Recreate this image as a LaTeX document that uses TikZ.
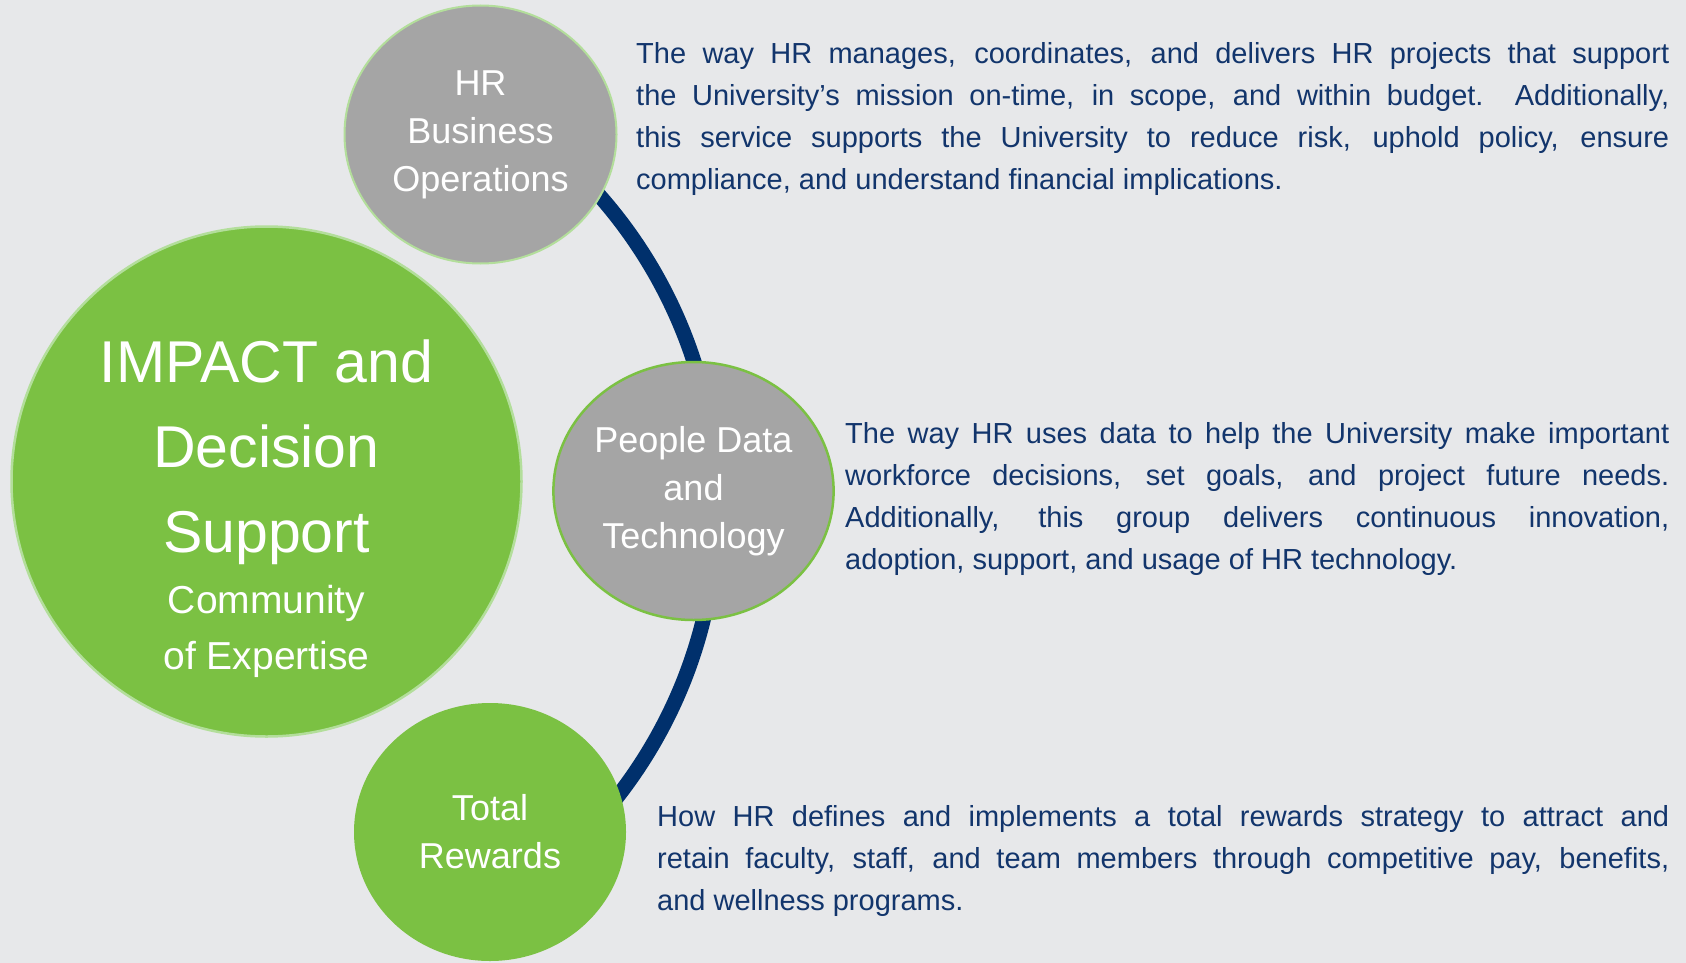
\documentclass[tikz,border=0pt]{standalone}
\usepackage{fontspec}
\setmainfont{Liberation Sans}
\usetikzlibrary{positioning,calc,shapes.geometric}
\definecolor{pagebg}{HTML}{E7E8EA}
\definecolor{leafgreen}{HTML}{7BC143}
\definecolor{palegreen}{HTML}{B3DE9B}
\definecolor{discgray}{HTML}{A5A5A5}
\definecolor{spinenavy}{HTML}{00306C}
\definecolor{textnavy}{HTML}{12356C}
\tikzset{hub/.style={ellipse, inner sep=0pt, minimum width=272pt, minimum height=258pt, align=center, text=white, font=\fontsize{36}{48}\selectfont}}
\tikzset{bigdisc/.style={circle, inner sep=0pt, minimum size=510pt, fill=leafgreen, draw=palegreen, line width=2.5pt}}
\tikzset{blurb/.style={anchor=north west, inner sep=0pt, align=justify, text=textnavy, font=\fontsize{29}{42}\selectfont}}
\tikzset{spine/.style={draw=spinenavy, line width=15pt}}

\begin{document}
\begin{tikzpicture}[x=1pt, y=-1pt]
	\useasboundingbox[fill=pagebg] (0,0) rectangle (1686,963);
	% navy arc behind the three small discs
	\coordinate (arcc) at (246,507);
	\draw[spine] ($(arcc)+(-50:471)$) arc[start angle=-50, end angle=50, radius=471];
	%
	\node[bigdisc] (impact) at (266.5,481.5) {};
	\node[align=center, text=white, font=\fontsize{59}{85}\selectfont] (impacttitle) at (266.5,452) {IMPACT and\\Decision\\Support};
	\node[align=center, text=white, font=\fontsize{39}{56}\selectfont] (impactsub) at (266.5,631) {Community\\of Expertise};
	%
	\node[hub, fill=discgray, draw=palegreen, line width=2pt] (hrops) at (480.5,134.5) {HR\\Business\\Operations};
	\node[hub, fill=discgray, draw=leafgreen, line width=2.5pt] (peopledata) at (693.5,491) {People Data\\and\\Technology};
	\node[hub, fill=leafgreen] (rewards) at (490,832) {Total\\Rewards};
	%
	\node[blurb, text width=1033pt] (hrtext) at (636,42) {The way HR manages, coordinates, and delivers HR projects that support\linebreak
		the University’s mission on-time, in scope, and within budget.\ \ Additionally,\linebreak
		this service supports the University to reduce risk, uphold policy, ensure\linebreak
		compliance, and understand financial implications.};
	\node[blurb, text width=824pt] (peopletext) at (845,422) {The way HR uses data to help the University make important\linebreak
		workforce decisions, set goals, and project future needs.\linebreak
		Additionally, this group delivers continuous innovation,\linebreak
		adoption, support, and usage of HR technology.};
	\node[blurb, text width=1012pt] (rewardstext) at (657,805) {How HR defines and implements a total rewards strategy to attract and\linebreak
		retain faculty, staff, and team members through competitive pay, benefits,\linebreak
		and wellness programs.};
\end{tikzpicture}
\end{document}
